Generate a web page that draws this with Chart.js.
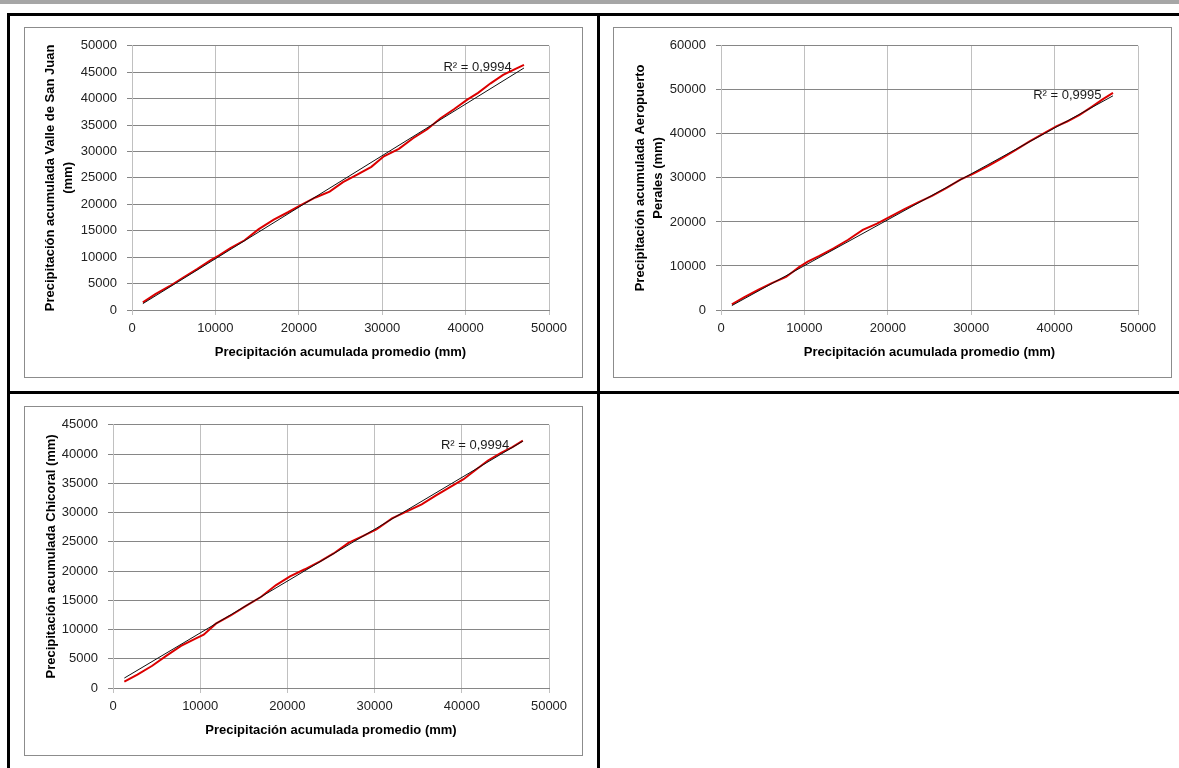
<!DOCTYPE html>
<html>
<head>
<meta charset="utf-8">
<script src="https://cdn.jsdelivr.net/npm/chart.js@4.4.0/dist/chart.umd.min.js"></script>
<style>
body { margin: 0; width: 1179px; height: 768px; background: #fff; position: relative; overflow: hidden; }
.barra { position: absolute; left: 0; top: 0; width: 1179px; height: 4px; background: #a6a6a6; }
.linea { position: absolute; background: #000; }
.caja { position: absolute; border: 1px solid #8c8c8c; background: #fff; }
.caja canvas { display: block; }
</style>
</head>
<body>
<div class="barra"></div>
<div class="linea" style="left:7px;top:13px;width:1172px;height:3px"></div>
<div class="linea" style="left:7px;top:13px;width:3px;height:755px"></div>
<div class="linea" style="left:597px;top:13px;width:3px;height:755px"></div>
<div class="linea" style="left:7px;top:391px;width:1172px;height:3px"></div>

<div class="caja" style="left:24px;top:27px;width:557px;height:349px"><canvas id="grafica-valle" width="557" height="349"></canvas></div>
<div class="caja" style="left:613px;top:27px;width:557px;height:349px"><canvas id="grafica-perales" width="557" height="349"></canvas></div>
<div class="caja" style="left:24px;top:406px;width:557px;height:348px"><canvas id="grafica-chicoral" width="557" height="348"></canvas></div>

<script>
// precipitación acumulada promedio (eje x, común a las tres estaciones)
var promedio = [1300, 2800, 4500, 6100, 7800, 9400, 10400, 11800, 13500, 15200, 17000, 18700, 20300, 22000, 23700,
	25300, 27000, 28700, 30200, 32000, 33700, 35400, 37000, 38600, 40200, 41500, 43000, 44500, 45800, 47000];

var valleSanJuan = [1450, 3000, 4500, 6100, 7750, 9400, 10300, 11700, 13200, 15300, 17100, 18500, 19900, 21300, 22400,
	24200, 25600, 27100, 29100, 30500, 32500, 34200, 36300, 38000, 39800, 41100, 42900, 44500, 45500, 46400];

var aeropuertoPerales = [1300, 2900, 4600, 6100, 7500, 9800, 11000, 12300, 14000, 15900, 18200, 19600, 21200, 22900, 24500,
	25900, 27700, 29600, 30900, 32700, 34500, 36400, 38300, 40000, 41700, 42800, 44300, 46200, 47900, 49300];

var chicoral = [1100, 2300, 3800, 5500, 7200, 8400, 9100, 11000, 12400, 14000, 15600, 17600, 19100, 20300, 21600,
	23000, 24800, 26000, 27100, 29000, 30200, 31400, 32900, 34300, 35700, 37200, 38900, 40200, 41200, 42300];

// extremos de las líneas de tendencia
var tendenciaX = [1300, 47000];
var tendenciaValle = [1200, 45800];
var tendenciaPerales = [1000, 48640];
var tendenciaChicoral = [1700, 42200];

var textosR2 = ["R² = 0,9994", "R² = 0,9995", "R² = 0,9994"];

var fuente = "'Liberation Sans', Arial, sans-serif";

function aPuntos(xs, ys)
{
	var puntos = [];
	for (var i = 0; i < xs.length; i++)
		puntos.push({ x: xs[i], y: ys[i] });
	return puntos;
}

var pluginR2 = {
	id: 'etiquetaR2',
	afterDatasetsDraw: function (chart, args, opts) {
		var ctx = chart.ctx;
		var px = chart.scales.x.getPixelForValue(opts.x);
		var py = chart.scales.y.getPixelForValue(opts.y);
		ctx.save();
		ctx.font = "13px " + fuente;
		ctx.fillStyle = "#1a1a1a";
		ctx.textAlign = "right";
		ctx.textBaseline = "middle";
		ctx.fillText(opts.texto, px, py);
		ctx.restore();
	}
};

function creaGrafica(id, cfg)
{
	var canvas = document.getElementById(id);
	return new Chart(canvas, {
		type: 'scatter',
		data: {
			datasets: [{
				label: 'Tendencia',
				data: aPuntos(tendenciaX, cfg.tendencia),
				showLine: true,
				borderColor: '#111111',
				borderWidth: 1,
				pointRadius: 0,
				order: 1
			}, {
				label: 'Estación',
				data: aPuntos(promedio, cfg.valores),
				showLine: true,
				borderColor: '#dc0000',
				borderWidth: 2,
				pointRadius: 0,
				tension: 0,
				order: 2
			}]
		},
		options: {
			responsive: false,
			animation: false,
			events: [],
			layout: { padding: { top: cfg.arriba, right: 33, bottom: 0, left: 0 } },
			plugins: {
				legend: { display: false },
				tooltip: { enabled: false },
				etiquetaR2: { texto: cfg.r2, x: cfg.r2x, y: cfg.r2y }
			},
			scales: {
				x: {
					type: 'linear',
					min: 0,
					max: 50000,
					ticks: {
						stepSize: 10000,
						padding: 6,
						color: '#222',
						font: { family: fuente, size: 13 },
						callback: function (v) { return String(v); }
					},
					grid: { color: '#c0c0c0', tickLength: 5 },
					border: { color: '#868686' },
					title: {
						display: true,
						text: 'Precipitación acumulada promedio (mm)',
						color: '#000',
						font: { family: fuente, size: 13, weight: 'bold', lineHeight: 1.2 },
						padding: { top: 0, bottom: 17 }
					},
					afterFit: function (scale) { scale.height = cfg.altoEjeX; }
				},
				y: {
					type: 'linear',
					min: 0,
					max: cfg.yMax,
					ticks: {
						stepSize: cfg.yPaso,
						padding: 10,
						color: '#222',
						font: { family: fuente, size: 13 },
						callback: function (v) { return String(v); }
					},
					grid: { color: '#868686', tickLength: 5 },
					border: { color: '#c0c0c0' },
					title: {
						display: true,
						text: cfg.tituloY,
						color: '#000',
						font: { family: fuente, size: 13, weight: 'bold', lineHeight: 18 / 13 },
						padding: { top: cfg.padTituloY, bottom: 0 }
					},
					afterFit: function (scale) { scale.width = cfg.anchoEjeY; }
				}
			}
		},
		plugins: [pluginR2]
	});
}

creaGrafica('grafica-valle', {
	valores: valleSanJuan,
	tendencia: tendenciaValle,
	yMax: 50000,
	yPaso: 5000,
	tituloY: ['Precipitación acumulada Valle de San Juan', '(mm)'],
	padTituloY: 16,
	anchoEjeY: 107,
	altoEjeX: 67,
	arriba: 15,
	r2: textosR2[0], r2x: 45530, r2y: 45880
});

creaGrafica('grafica-perales', {
	valores: aeropuertoPerales,
	tendencia: tendenciaPerales,
	yMax: 60000,
	yPaso: 10000,
	tituloY: ['Precipitación acumulada Aeropuerto', 'Perales (mm)'],
	padTituloY: 17.5,
	anchoEjeY: 107,
	altoEjeX: 67,
	arriba: 15,
	r2: textosR2[1], r2x: 45620, r2y: 48780
});

creaGrafica('grafica-chicoral', {
	valores: chicoral,
	tendencia: tendenciaChicoral,
	yMax: 45000,
	yPaso: 5000,
	tituloY: 'Precipitación acumulada Chicoral (mm)',
	padTituloY: 17,
	anchoEjeY: 88,
	altoEjeX: 67,
	arriba: 15,
	r2: textosR2[2], r2x: 45440, r2y: 41450
});
</script>
</body>
</html>
